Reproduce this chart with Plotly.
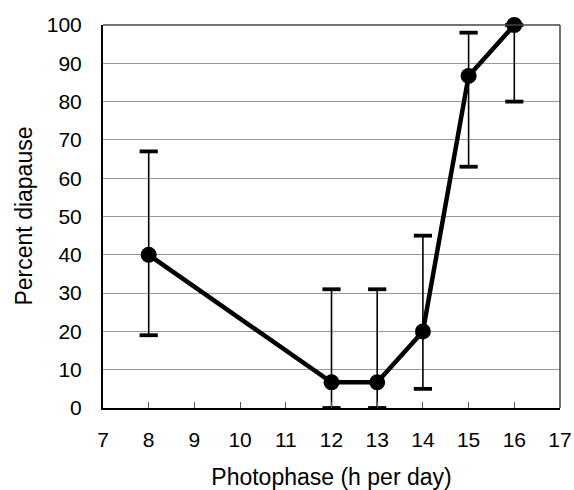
import plotly.graph_objects as go

photophase = [8, 12, 13, 14, 15, 16]
percent = [40, 6.7, 6.7, 20, 86.7, 100]
upper = [67, 31, 31, 45, 98, 100]
lower = [19, 0, 0, 5, 63, 80]

plus = [u - p for u, p in zip(upper, percent)]
minus = [p - l for p, l in zip(percent, lower)]

fig = go.Figure()
# error bar stems
fig.add_trace(go.Scatter(
    x=photophase, y=percent, mode="markers",
    marker=dict(size=1, color="rgba(0,0,0,0)"),
    error_y=dict(type="data", symmetric=False, array=plus, arrayminus=minus,
                 color="black", thickness=1.6, width=0),
    showlegend=False, hoverinfo="skip"))
# thick caps
fig.add_trace(go.Scatter(
    x=photophase + photophase, y=upper + lower, mode="markers",
    marker=dict(symbol="line-ew", size=13, line=dict(width=3.8, color="black")),
    showlegend=False, hoverinfo="skip", cliponaxis=False))
# main line
fig.add_trace(go.Scatter(
    x=photophase, y=percent, mode="lines+markers",
    line=dict(color="black", width=4.5),
    marker=dict(size=16, color="black"),
    showlegend=False, cliponaxis=False))

fig.update_layout(
    width=574, height=490,
    margin=dict(l=103, r=14, t=25, b=82, autoexpand=False),
    paper_bgcolor="white", plot_bgcolor="white",
    font=dict(family="Liberation Sans, Arial, sans-serif", color="black"),
    xaxis=dict(range=[7, 17], dtick=1, tick0=7, showgrid=False, automargin=False,
               ticks="inside", ticklen=6, tickcolor="#555", tickwidth=1,
               showline=True, linecolor="black", linewidth=2, mirror=False,
               tickfont=dict(size=21), zeroline=False, ticklabelstandoff=12,
               title=dict(text="Photophase (h per day)", font=dict(size=23), standoff=22)),
    yaxis=dict(range=[0, 100], dtick=10, showgrid=True, gridcolor="#999", gridwidth=1,
               showline=True, linecolor="black", linewidth=2, zeroline=False, automargin=False,
               ticks="", tickfont=dict(size=21), ticklabelstandoff=15),
    annotations=[dict(text="Percent diapause", xref="paper", yref="paper",
                      x=-0.175, y=0.5, xanchor="center", yanchor="middle",
                      textangle=-90, showarrow=False, font=dict(size=23))],
    shapes=[
        dict(type="line", xref="paper", yref="paper", x0=0, x1=1, y0=1, y1=1,
             line=dict(color="#444", width=1.5)),
        dict(type="line", xref="paper", yref="paper", x0=1, x1=1, y0=0, y1=1,
             line=dict(color="#444", width=1.5)),
    ],
)

fig.write_html("out.html", config={"displayModeBar": False},
               post_script="document.body.style.margin='0';")
